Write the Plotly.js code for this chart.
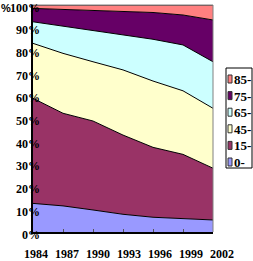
<!DOCTYPE html>
<html><head><meta charset="utf-8">
<script src="https://cdn.plot.ly/plotly-3.0.1.min.js"></script>
<style>html,body{margin:0;padding:0;background:#fff}#chart{width:253px;height:261px}</style>
</head><body><div id="chart"></div>
<script>
// Data (share in %, stacked to 100%)
var years = [1984, 1987, 1990, 1993, 1996, 1999, 2002];
var seriesNames = ['0-', '15-', '45-', '65-', '75-', '85-'];
var age0  = [12.6, 11.5, 9.7, 7.8, 6.5, 5.9, 5.3];
var age15 = [46.3, 40.8, 39.2, 34.9, 30.8, 28.3, 22.8];
var age45 = [24.2, 26.4, 26.1, 28.7, 29.2, 28.0, 26.4];
var age65 = [9.5, 12.0, 13.7, 15.4, 18.4, 20.2, 20.5];
var age75 = [5.9, 7.4, 9.0, 10.3, 11.8, 13.2, 18.4];
var age85 = [1.5, 1.9, 2.3, 2.9, 3.3, 4.4, 6.6];
var yTicks = [0, 10, 20, 30, 40, 50, 60, 70, 80, 90, 100];
var yTickText = yTicks.map(function (t) { return t + '%'; });
var xTickText = years.map(String);
var colors = ['#9999FF', '#993366', '#FFFFCC', '#CCFFFF', '#660066', '#FF8080'];

var values = [age0, age15, age45, age65, age75, age85];
var traces = values.map(function (v, i) {
  return {
    x: years, y: v, name: seriesNames[i], type: 'scatter', mode: 'lines',
    stackgroup: 'one', groupnorm: i === 0 ? 'percent' : undefined,
    fillcolor: colors[i], line: {color: '#000000', width: 1},
    showlegend: false, hoverinfo: 'skip'
  };
});

// plot area geometry (px) for converting legend layout to paper coords
var L = 33, R = 213, T = 5, B = 232, W = 253, H = 261;
function px(x) { return (x - L) / (R - L); }
function py(y) { return (B - y) / (B - T); }

var labFont = {family: 'Liberation Sans Narrow', size: 12, color: '#000', weight: 'bold'};
var shapes = [
  {type: 'line', xref: 'paper', yref: 'paper', x0: 0, x1: 1, y0: 1, y1: 1, line: {color: '#808080', width: 1}},
  {type: 'line', xref: 'paper', yref: 'paper', x0: 1, x1: 1, y0: 0, y1: 1, line: {color: '#808080', width: 1}},
  // legend frame
  {type: 'rect', xref: 'paper', yref: 'paper', x0: px(226), x1: px(252), y0: py(68), y1: py(168), line: {color: '#000000', width: 1}, fillcolor: '#ffffff'}
];
var annotations = [
  {text: '%', xref: 'paper', yref: 'paper', x: px(0), y: py(8), xanchor: 'left', yanchor: 'middle', showarrow: false,
   borderpad: 0, font: {family: 'Liberation Sans', size: 11, color: '#000', weight: 'bold'}}
];
// y tick labels, placed through the y scale
yTicks.forEach(function (t, i) {
  annotations.push({text: yTickText[i], xref: 'paper', yref: 'y', x: 0, y: t, xanchor: 'right', yanchor: 'middle',
    xshift: 8, yshift: -2.5, showarrow: false, borderpad: 0, font: labFont});
});
// x tick labels, placed through the x scale
years.forEach(function (yr, i) {
  annotations.push({text: xTickText[i], xref: 'x', yref: 'paper', x: yr, y: 0, xanchor: 'center', yanchor: 'middle',
    xshift: 3 + i, yshift: -22, showarrow: false, borderpad: 0, font: labFont});
});
var legendOrder = [5, 4, 3, 2, 1, 0];
legendOrder.forEach(function (si, k) {
  var cy = 79.5 + k * 16.6;
  shapes.push({type: 'rect', xref: 'paper', yref: 'paper', x0: px(228), x1: px(232), y0: py(cy - 4.5), y1: py(cy + 3.5),
    line: {color: '#333333', width: 1}, fillcolor: colors[si]});
  annotations.push({text: seriesNames[si], xref: 'paper', yref: 'paper', x: px(232.5), y: py(cy), xanchor: 'left', yanchor: 'middle',
    showarrow: false, borderpad: 0, font: {family: 'Liberation Sans Narrow', size: 13, color: '#000', weight: 'bold'}});
});

var layout = {
  width: W, height: H,
  margin: {l: L, r: W - R, t: T, b: H - B, pad: 0},
  paper_bgcolor: '#ffffff', plot_bgcolor: '#ffffff',
  showlegend: false,
  xaxis: {
    type: 'linear', range: [years[0], years[years.length - 1]], tickvals: years, showticklabels: false,
    showgrid: false, zeroline: false, showline: true, linecolor: '#000000', linewidth: 2,
    ticks: 'inside', ticklen: 3, tickcolor: '#555555', tickwidth: 1
  },
  yaxis: {
    range: [0, 100], tickvals: yTicks, showticklabels: false,
    showgrid: false, zeroline: false, showline: true, linecolor: '#000000', linewidth: 2,
    ticks: ''
  },
  shapes: shapes, annotations: annotations
};
Plotly.newPlot('chart', traces, layout, {staticPlot: true, displayModeBar: false});
</script></body></html>
